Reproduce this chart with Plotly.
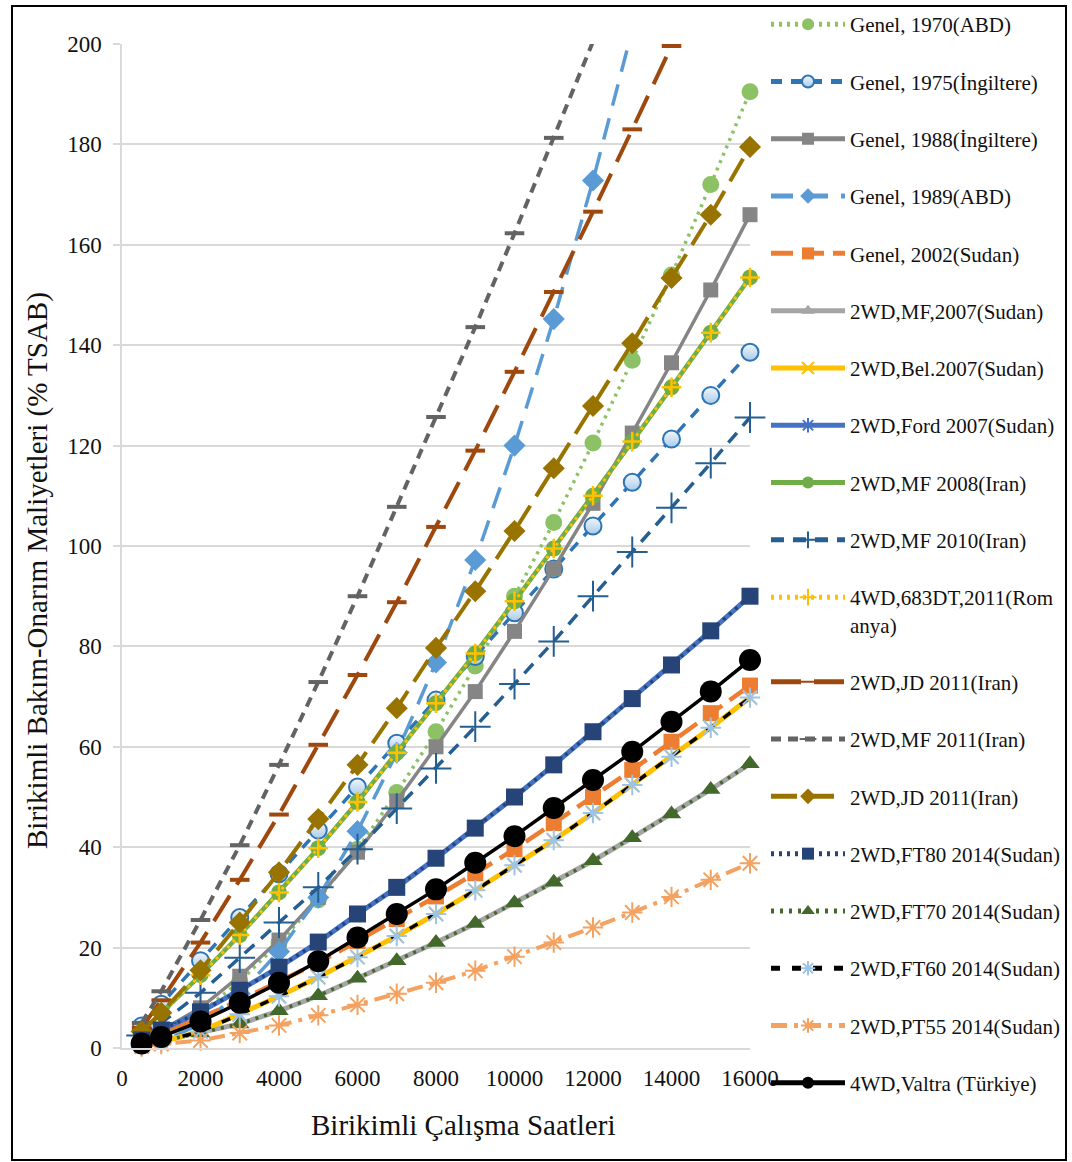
import plotly.graph_objects as go

# Cumulative operating hours (x) shared by all series
hours = [500, 1000, 2000, 3000, 4000, 5000, 6000, 7000, 8000,
         9000, 10000, 11000, 12000, 13000, 14000, 15000, 16000]

# Cumulative repair & maintenance cost (% of purchase price)
genel_1970_abd = [0.8, 2.3, 6.9, 13.3, 20.9, 29.5, 39.6, 50.9, 63.0,
                  76.1, 90.0, 104.7, 120.5, 137.0, 154.0, 172.0, 190.5]
genel_1975_ing = [4.4, 8.7, 17.4, 26.0, 34.7, 43.4, 52.0, 60.7, 69.3,
                  78.0, 86.7, 95.4, 104.0, 112.7, 121.3, 130.0, 138.6]
genel_1988_ing = [1.5, 3.5, 8.0, 14.3, 21.5, 30.0, 39.0, 49.2, 60.0,
                  71.0, 83.0, 95.5, 108.5, 122.5, 136.5, 151.0, 166.0]
genel_1989_abd = [0.3, 1.2, 4.8, 10.8, 19.2, 30.0, 43.2, 58.8, 76.8,
                  97.2, 120.0, 145.2, 172.8, 202.8]
genel_2002_sudan = [1.2, 2.8, 6.0, 9.5, 13.2, 17.0, 21.3, 25.7, 30.2,
                    34.8, 39.6, 44.8, 50.0, 55.4, 61.0, 66.7, 72.2]
mf_2007_sudan = [0.6, 1.4, 3.0, 4.8, 7.4, 10.4, 13.9, 17.4, 21.0,
                 24.8, 28.9, 33.0, 37.3, 41.9, 46.6, 51.5, 56.6]
bel_2007_sudan = [0.4, 1.2, 3.3, 6.7, 10.3, 14.1, 18.1, 22.3, 26.7,
                  31.4, 36.4, 41.4, 46.8, 52.4, 58.0, 63.8, 69.8]
ford_2007_sudan = [1.6, 3.6, 7.2, 11.5, 16.1, 21.1, 26.7, 32.0, 37.8,
                   43.8, 50.0, 56.4, 63.0, 69.6, 76.3, 83.1, 90.0]
mf_2008_iran = [3.2, 7.0, 14.5, 22.5, 31.0, 39.8, 49.0, 58.8, 68.7,
                78.6, 89.0, 99.5, 110.0, 120.8, 131.6, 142.5, 153.5]
mf_2010_iran = [2.5, 5.0, 11.0, 18.0, 25.0, 32.0, 39.6, 47.7, 55.7,
                64.0, 72.5, 81.0, 90.0, 98.8, 107.6, 116.5, 125.6]
dt683_2011_rom = [3.2, 7.0, 14.5, 22.5, 31.0, 39.8, 49.0, 58.8, 68.7,
                  78.6, 89.0, 99.5, 110.0, 120.8, 131.6, 142.5, 153.5]
jd_2011_iran_a = [4.0, 9.5, 21.0, 33.5, 46.5, 60.4, 74.3, 88.8, 103.8,
                  119.0, 134.7, 150.6, 166.6, 183.0, 199.6]
mf_2011_iran = [5.0, 11.3, 25.5, 40.4, 56.4, 72.9, 90.0, 107.8, 125.7,
                143.6, 162.3, 181.3, 200.5]
jd_2011_iran_b = [3.3, 7.0, 15.5, 25.0, 35.0, 45.6, 56.4, 67.7, 79.7,
                  91.0, 103.0, 115.5, 127.9, 140.4, 153.4, 166.0, 179.5]
ft80_2014_sudan = [1.6, 3.6, 7.2, 11.5, 16.1, 21.1, 26.7, 32.0, 37.8,
                   43.8, 50.0, 56.4, 63.0, 69.6, 76.3, 83.1, 90.0]
ft70_2014_sudan = [0.6, 1.4, 3.0, 4.8, 7.4, 10.4, 13.9, 17.4, 21.0,
                   24.8, 28.9, 33.0, 37.3, 41.9, 46.6, 51.5, 56.6]
ft60_2014_sudan = [0.4, 1.2, 3.3, 6.7, 10.3, 14.1, 18.1, 22.3, 26.7,
                   31.4, 36.4, 41.4, 46.8, 52.4, 58.0, 63.8, 69.8]
pt55_2014_sudan = [0.3, 0.8, 1.5, 3.0, 4.5, 6.5, 8.6, 10.8, 13.0,
                   15.4, 18.2, 21.0, 24.0, 27.0, 30.1, 33.5, 36.8]
valtra_turkiye = [0.9, 2.2, 5.3, 9.0, 13.0, 17.3, 22.0, 26.7, 31.6,
                  36.9, 42.2, 47.8, 53.4, 59.0, 65.0, 71.0, 77.3]

x_ticks = [0, 2000, 4000, 6000, 8000, 10000, 12000, 14000, 16000]
y_ticks = [0, 20, 40, 60, 80, 100, 120, 140, 160, 180, 200]

SERIF = "Liberation Serif, Times New Roman, serif"

# name, values, line colour, dash, line width, symbol, marker size,
# marker fill, marker outline colour, outline width, clip to axes
series = [
    ("Genel, 1970(ABD)", genel_1970_abd, "#8CC265", "3px,5px", 3.5,
     "circle", 17, "#8CC265", "#8CC265", 0, False),
    ("Genel, 1975(İngiltere)", genel_1975_ing, "#2E75B6", "11px,9px", 3.5,
     "circle", 17, "#F2F7FC", "#2E75B6", 2, False),
    ("Genel, 1988(İngiltere)", genel_1988_ing, "#858585", "solid", 3.5,
     "square", 15, "#858585", "#858585", 0, False),
    ("Genel, 1989(ABD)", genel_1989_abd, "#5B9BD5", "22px,13px", 3.5,
     "diamond", 17, "#5B9BD5", "#5B9BD5", 0, True),
    ("Genel, 2002(Sudan)", genel_2002_sudan, "#ED7D31", "22px,9px", 4.5,
     "square", 16, "#ED7D31", "#ED7D31", 0, False),
    ("2WD,MF,2007(Sudan)", mf_2007_sudan, "#A5A5A5", "solid", 5,
     "triangle-up", 14, "#A5A5A5", "#A5A5A5", 0, False),
    ("2WD,Bel.2007(Sudan)", bel_2007_sudan, "#FFC000", "solid", 5,
     "x-thin-open", 12, "#FFC000", "#FFC000", 2, False),
    ("2WD,Ford 2007(Sudan)", ford_2007_sudan, "#4472C4", "solid", 5,
     "asterisk-open", 12, "#4472C4", "#4472C4", 2, False),
    ("2WD,MF 2008(Iran)", mf_2008_iran, "#70AD47", "solid", 4.5,
     "circle", 16, "#70AD47", "#70AD47", 0, False),
    ("2WD,MF 2010(Iran)", mf_2010_iran, "#255E91", "13px,9px", 3.5,
     "cross-thin-open", 22, "#255E91", "#255E91", 2, False),
    ("4WD,683DT,2011(Rom<br>anya)", dt683_2011_rom, "#FFC000", "3px,5px", 3,
     "cross-thin-open", 14, "#FFC000", "#FFC000", 2.5, False),
    ("2WD,JD 2011(Iran)", jd_2011_iran_a, "#9E480E", "30px,13px", 4,
     "line-ew-open", 14, "#9E480E", "#9E480E", 4, True),
    ("2WD,MF 2011(Iran)", mf_2011_iran, "#636363", "10px,7px", 4,
     "line-ew-open", 14, "#636363", "#636363", 4, True),
    ("2WD,JD 2011(Iran) ", jd_2011_iran_b, "#997300", "26px,11px", 4,
     "diamond", 17, "#997300", "#997300", 0, False),
    ("2WD,FT80 2014(Sudan)", ft80_2014_sudan, "#264478", "3px,5px", 3.5,
     "square", 17, "#264478", "#264478", 0, False),
    ("2WD,FT70 2014(Sudan)", ft70_2014_sudan, "#43682B", "3px,6px", 3.5,
     "triangle-up", 17, "#43682B", "#43682B", 0, False),
    ("2WD,FT60 2014(Sudan)", ft60_2014_sudan, "#000000", "9px,12px", 3.5,
     "asterisk-open", 17, "#9DC3E6", "#9DC3E6", 2, False),
    ("2WD,PT55 2014(Sudan)", pt55_2014_sudan, "#F4A261", "16px,7px,4px,7px", 4,
     "asterisk-open", 17, "#F4A261", "#F4A261", 2, False),
    ("4WD,Valtra (Türkiye)", valtra_turkiye, "#000000", "solid", 3.5,
     "circle", 22, "#000000", "#000000", 0, False),
]

fig = go.Figure()
for i, (name, vals, color, dash, lw, sym, size, fill, edge, ew, clip) in enumerate(series):
    marker = dict(symbol=sym, size=size, color=fill,
                  line=dict(color=edge, width=ew))
    if fill == "#F2F7FC":
        # pale-to-light-blue shaded circles
        marker["gradient"] = dict(type="vertical", color="#A9CBEA")
    fig.add_trace(go.Scatter(
        x=hours[:len(vals)], y=vals, name=name, mode="lines+markers",
        legendgroup=f"g{i}",
        line=dict(color=color, dash=dash, width=lw),
        marker=marker,
        cliponaxis=clip,
    ))

# Axis titles
fig.add_annotation(text="Birikimli Çalışma Saatleri", x=(463 - 122) / 628,
                   y=(1048 - 1125) / 1004, xref="paper", yref="paper",
                   xanchor="center", yanchor="middle",
                   showarrow=False, font=dict(family=SERIF, size=29, color="#111"))
fig.add_annotation(text="Birikimli Bakım-Onarım Maliyetleri (% TSAB)",
                   x=(37 - 122) / 628, y=(1048 - 571) / 1004,
                   xref="paper", yref="paper", textangle=-90, showarrow=False,
                   xanchor="center", yanchor="middle",
                   font=dict(family=SERIF, size=29, color="#111"))

# Outer chart frame
fig.add_shape(type="rect", xref="paper", yref="paper",
              x0=(12 - 122) / 628, x1=(1066 - 122) / 628,
              y0=(1048 - 1160) / 1004, y1=(1048 - 6) / 1004,
              line=dict(color="#000000", width=2), layer="below")

fig.update_layout(
    width=1072, height=1162,
    margin=dict(l=122, r=322, t=44, b=114, autoexpand=False),
    paper_bgcolor="white", plot_bgcolor="white",
    font=dict(family=SERIF, color="#111"),
    showlegend=True,
    legend=dict(x=(766 - 122) / 628, y=(1048 - 4) / 1004,
                xanchor="left", yanchor="top", maxheight=1160,
                font=dict(family=SERIF, size=21, color="#111"),
                itemwidth=74, tracegroupgap=27, valign="top",
                itemsizing="constant", bgcolor="rgba(0,0,0,0)",
                itemclick=False, itemdoubleclick=False),
    xaxis=dict(range=[0, 16000], tickvals=x_ticks,
               ticktext=[str(v) for v in x_ticks],
               showgrid=False, zeroline=False,
               showline=True, linecolor="#D9D9D9", linewidth=1.5,
               ticks="", ticklabelstandoff=9,
               tickfont=dict(family=SERIF, size=23, color="#111")),
    yaxis=dict(range=[0, 200], tickvals=y_ticks,
               showgrid=True, gridcolor="#D9D9D9", gridwidth=1.5,
               zeroline=False, showline=True, linecolor="#D9D9D9",
               linewidth=1.5, ticks="outside", ticklen=7,
               tickcolor="#D9D9D9", tickwidth=1.5, ticklabelstandoff=7,
               tickfont=dict(family=SERIF, size=23, color="#111")),
)

fig.write_html("out.html")
